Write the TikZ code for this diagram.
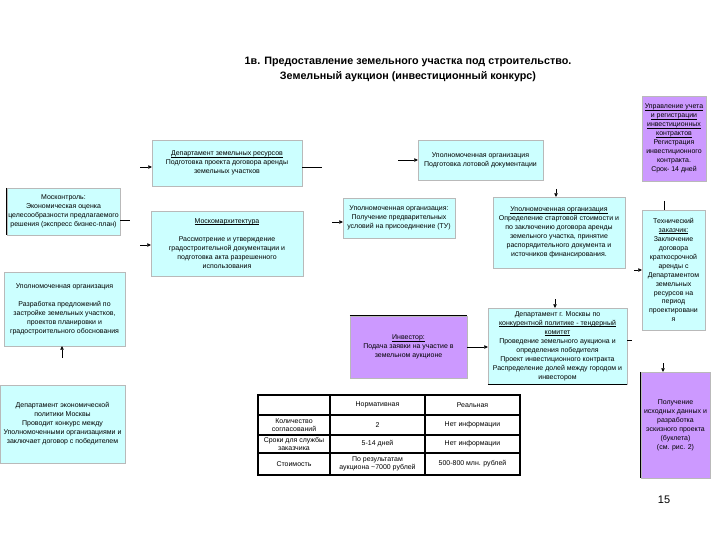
\documentclass[tikz,border=0pt]{standalone}
\usepackage{fontspec}
\setmainfont{Liberation Sans}
\usetikzlibrary{arrows.meta}
\definecolor{boxcyan}{HTML}{CCFFFF}
\definecolor{boxlilac}{HTML}{CC99FF}
% underline that keeps the line spacing
\newcommand{\ulin}[1]{\leavevmode\setbox0\hbox{#1}\rlap{\rule[-1.3bp]{\wd0}{0.45bp}}\box0}

\begin{document}
\begin{tikzpicture}[x=1bp, y=-1bp,
  cbox/.style={draw=gray!55, fill=boxcyan, align=center, inner sep=1bp, font=\fontsize{7}{9}\selectfont},
  lbox/.style={cbox, fill=boxlilac},
  boxsize/.style 2 args={minimum width=#1bp, minimum height=#2bp},
  arr/.style={-{Triangle[length=3.5bp,width=3.5bp]}, line width=0.6bp},
  stub/.style={line width=0.6bp},
  blk/.style={line width=1.3bp},
  cell/.style={align=center, font=\fontsize{7}{8.5}\selectfont, inner sep=0pt}]
  \useasboundingbox (0,0) rectangle (720,540);

  % Title
  \node[font=\fontsize{10.8}{14.5}\selectfont\bfseries, align=center] (title) at (408,69.5)
    {1в. Предоставление земельного участка под строительство.\\Земельный аукцион (инвестиционный конкурс)};

  % Left column
  \node[cbox, boxsize={113}{47}] (mprog) at (63.5,211.5)
    {Москонтроль:\\Экономическая оценка\\целесообразности предлагаемого\\решения (экспресс бизнес-план)};
  \node[cbox, boxsize={121}{74}] (lupol) at (64.5,309)
    {Уполномоченная организация\\[9bp]Разработка предложений по\\застройке земельных участков,\\проектов планировки и\\градостроительного обоснования};
  \node[cbox, boxsize={125}{78}] (dep) at (62.5,424)
    {Департамент экономической\\политики Москвы\\Проводит конкурс между\\Уполномоченными организациями и\\заключает договор с победителем};

  % Second column
  \node[cbox, boxsize={150}{46}] (dland) at (227,163)
    {\ulin{Департамент земельных ресурсов}\\Подготовка проекта договора аренды\\земельных участков};
  \node[cbox, boxsize={152}{65}] (mkarch) at (227,243.5)
    {\ulin{Москомархитектура}\\[9bp]Рассмотрение и утверждение\\градостроительной документации и\\подготовка акта разрешенного\\использования};

  % Middle
  \node[cbox, boxsize={125}{40}] (uptop) at (480.5,160)
    {Уполномоченная организация\\Подготовка лотовой документации};
  \node[cbox, boxsize={112}{40}] (upgu) at (399,218)
    {Уполномоченная организация:\\Получение предварительных\\условий на присоединение (ТУ)};
  \node[cbox, boxsize={132}{71}] (upright) at (559,232.5)
    {\ulin{Уполномоченная организация}\\Определение стартовой стоимости и\\по заключению договора аренды\\земельного участка, принятие\\распорядительного документа и\\источников финансирования.};
  \node[lbox, boxsize={117}{62}] (inv) at (408.5,347)
    {\ulin{Инвестор:}\\Подача заявки на участие в\\земельном аукционе};
  \node[cbox, boxsize={139}{76}] (tender) at (557.5,346)
    {Департамент г. Москвы по\\\ulin{конкурентной политике - тендерный}\\\ulin{комитет}\\Проведение земельного аукциона и\\определения победителя\\Проект инвестиционного контракта\\Распределение долей между городом и\\инвестором};

  % Right column
  \node[lbox, boxsize={64}{85}] (reg) at (674,138.5)
    {\ulin{Управление учета}\\\ulin{и регистрации}\\\ulin{инвестиционных}\\\ulin{контрактов}\\Регистрация\\инвестиционного\\контракта.\\Срок- 14 дней};
  \node[cbox, boxsize={63}{120}] (tech) at (673.5,270)
    {Технический\\\ulin{заказчик:}\\Заключение\\договора\\краткосрочной\\аренды с\\Департаментом\\земельных\\ресурсов на\\период\\проектировани\\я};
  \node[lbox, boxsize={69}{106}] (sketch) at (675.5,425)
    {Получение\\исходных данных и\\разработка\\эскизного проекта\\(буклета)\\(см. рис. 2)};

  % dark edges
  \draw[blk] (inv.north west) -- (inv.north east);
  \draw[blk] (tender.south west) -- (tender.south east);
  \draw[blk] (sketch.north west) -- (sketch.south west);
  \draw[line width=0.8bp] (mprog.north west) -- (mprog.south west);

  % Connectors
  \coordinate (c1) at (140,167);
  \coordinate (c2) at (322,167);
  \coordinate (c3) at (398,160);
  \coordinate (c4) at (130,220);
  \coordinate (c5) at (140,245);
  \coordinate (c6) at (332,222);
  \coordinate (c7) at (556,189);
  \coordinate (c8) at (634,270);
  \coordinate (c9) at (664,201);
  \coordinate (c10) at (663,363);
  \coordinate (c11) at (555,299);
  \coordinate (c12) at (632,340);
  \coordinate (c13) at (62,358);
  \draw[arr] (c1) -- (dland.west |- c1);
  \draw[stub] (dland.east |- c2) -- (c2);
  \draw[arr] (c3) -- (uptop.west);
  \draw[stub] (mprog.east |- c4) -- (c4);
  \draw[arr] (c5) -- (mkarch.west |- c5);
  \draw[arr] (c6) -- (upgu.west |- c6);
  \draw[arr] (c7) -- (upright.north -| c7);
  \draw[arr] (c8) -- (tech.west);
  \draw[stub] (c9) -- (tech.north -| c9);
  \draw[arr] (c10) -- (sketch.north -| c10);
  \draw[arr] (c11) -- (tender.north -| c11);
  \draw[arr] (inv.east) -- (tender.west |- inv.east);
  \draw[stub] (tender.east |- c12) -- (c12);
  \draw[arr] (c13) -- (lupol.south -| c13);

  % Table
  \draw[blk] (258,395) rectangle (520,475);
  \foreach \yy in {415,435,453} {
    \draw[blk] (258,\yy) -- (520,\yy);
  }
  \foreach \xx in {330,425} {
    \draw[blk] (\xx,395) -- (\xx,475);
  }
  \foreach \r/\yy/\a/\b/\c in {1/405/{}/{Нормативная}/{Реальная},
      2/425/{Количество\\согласований}/{2}/{Нет информации},
      3/444/{Сроки для службы\\заказчика}/{5-14 дней}/{Нет информации},
      4/464/{Стоимость}/{По результатам\\аукциона \textasciitilde7000 рублей}/{500-800 млн. рублей}} {
    \node[cell] (t\r a) at (294,\yy) {\a};
    \node[cell] (t\r b) at (377.5,\yy) {\b};
    \node[cell] (t\r c) at (472.5,\yy) {\c};
  }

  % Page number
  \node[font=\fontsize{11}{13}\selectfont] (page) at (664,500) {15};
\end{tikzpicture}
\end{document}
